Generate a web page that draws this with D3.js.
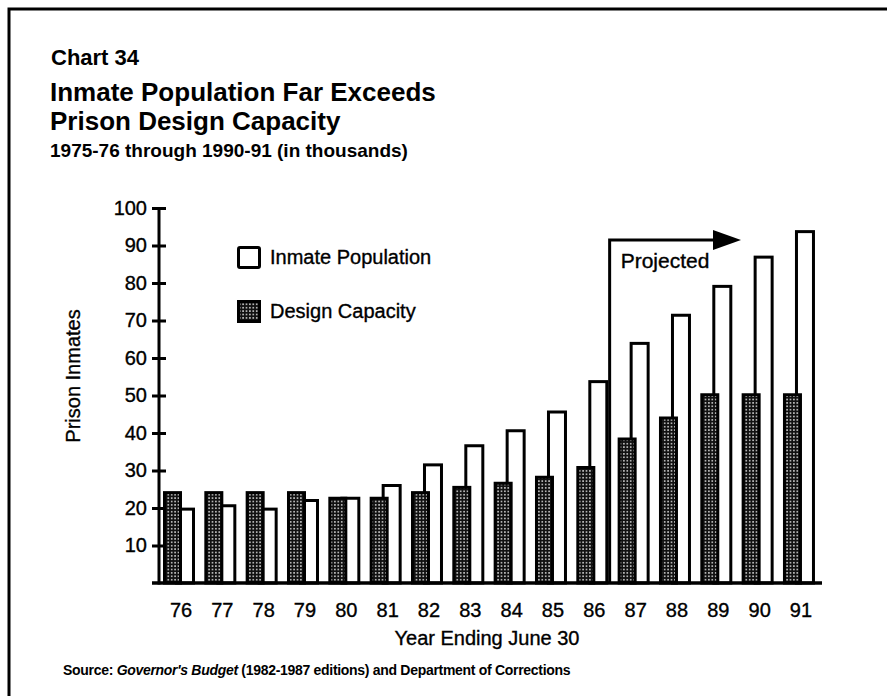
<!DOCTYPE html>
<html>
<head>
<meta charset="utf-8">
<script src="https://cdn.jsdelivr.net/npm/d3@7"></script>
<style>
  html, body { margin: 0; padding: 0; background: #fff; }
  svg { display: block; font-family: "Liberation Sans", Arial, Helvetica, sans-serif; }
  .ink { stroke: #000; stroke-width: 0.35px; }
</style>
</head>
<body>
<svg id="chart" width="887" height="696"></svg>
<script>
// Fiscal years ending June 30 (two-digit labels)
const years = ["76","77","78","79","80","81","82","83","84","85","86","87","88","89","90","91"];
// Prison inmates, thousands
const inmatePopulation = [19.7, 20.6, 19.7, 22.0, 22.6, 26.0, 31.5, 36.6, 40.6, 45.6, 53.7, 63.9, 71.4, 79.1, 86.9, 93.7];
// Prison design capacity, thousands
const designCapacity = [24.1, 24.1, 24.1, 24.1, 22.6, 22.6, 24.1, 25.5, 26.6, 28.2, 30.8, 38.4, 44.0, 50.2, 50.2, 50.2];
// Y axis tick values
const yTicks = [10, 20, 30, 40, 50, 60, 70, 80, 90, 100];
// First projected year
const projectedFrom = "87";

const svg = d3.select("#chart");
const ink = "#000";

// dotted screen used for the design-capacity bars
const defs = svg.append("defs");
const pat = defs.append("pattern")
  .attr("id", "dots").attr("patternUnits", "userSpaceOnUse")
  .attr("width", 3.4).attr("height", 3.4);
pat.append("rect").attr("width", 3.4).attr("height", 3.4).attr("fill", "#111");
pat.append("rect").attr("x", 1).attr("y", 1).attr("width", 1.4).attr("height", 1.4).attr("fill", "#fff");

// page frame
svg.append("rect").attr("x", 9).attr("y", 9).attr("width", 900).attr("height", 720)
  .attr("fill", "none").attr("stroke", ink).attr("stroke-width", 3);

// headings
svg.append("text").attr("x", 51).attr("y", 65).attr("font-size", 22).attr("font-weight", "bold").text("Chart 34");
svg.append("text").attr("x", 50).attr("y", 101).attr("font-size", 26).attr("font-weight", "bold").text("Inmate Population Far Exceeds");
svg.append("text").attr("x", 50).attr("y", 130).attr("font-size", 26).attr("font-weight", "bold").text("Prison Design Capacity");
svg.append("text").attr("x", 50).attr("y", 157).attr("font-size", 19).attr("font-weight", "bold").text("1975-76 through 1990-91 (in thousands)");

// scales
const x = d3.scaleBand().domain(years).range([160, 821.3]).padding(0);
const y = d3.scaleLinear().domain([0, 100]).range([583, 208]);

// bars: inmate population sits behind and to the right of design capacity
const groups = svg.append("g").selectAll("g").data(years).join("g");
groups.append("rect")
  .attr("x", d => x(d) + 16.5)
  .attr("width", 17)
  .attr("y", (d, i) => y(inmatePopulation[i]))
  .attr("height", (d, i) => y(0) - y(inmatePopulation[i]))
  .attr("fill", "#fff").attr("stroke", ink).attr("stroke-width", 3);
groups.append("rect")
  .attr("x", d => x(d) + 4.5)
  .attr("width", 16)
  .attr("y", (d, i) => y(designCapacity[i]))
  .attr("height", (d, i) => y(0) - y(designCapacity[i]))
  .attr("fill", "url(#dots)").attr("stroke", ink).attr("stroke-width", 3);

// y axis
const yAxis = svg.append("g").attr("transform", "translate(159,0)")
  .call(d3.axisLeft(y).tickValues(yTicks).tickSize(0).tickPadding(12));
yAxis.select(".domain").remove();
yAxis.selectAll(".tick line").attr("x1", -7).attr("x2", 7).attr("stroke", ink).attr("stroke-width", 3);
yAxis.selectAll(".tick text").attr("font-size", 20).attr("fill", ink).attr("class", "ink")
  .attr("font-family", "\"Liberation Sans\", Arial, sans-serif");
svg.append("line").attr("x1", 159).attr("x2", 159).attr("y1", y(100)).attr("y2", y(0) + 1.5)
  .attr("stroke", ink).attr("stroke-width", 3);

// x axis
const xAxis = svg.append("g").attr("transform", `translate(0,${y(0)})`)
  .call(d3.axisBottom(x).tickSize(0).tickPadding(20));
xAxis.select(".domain").remove();
xAxis.selectAll(".tick").attr("transform", d => `translate(${x(d) + 21},0)`);
xAxis.selectAll(".tick text").attr("font-size", 20).attr("fill", ink).attr("class", "ink")
  .attr("font-family", "\"Liberation Sans\", Arial, sans-serif");
svg.append("line").attr("x1", 152).attr("x2", 822).attr("y1", y(0)).attr("y2", y(0))
  .attr("stroke", ink).attr("stroke-width", 3.5);

// axis titles
svg.append("text").attr("class", "ink").attr("transform", "translate(80,376) rotate(-90)")
  .attr("text-anchor", "middle").attr("font-size", 20).text("Prison Inmates");
svg.append("text").attr("class", "ink").attr("x", 487).attr("y", 645).attr("text-anchor", "middle")
  .attr("font-size", 20).text("Year Ending June 30");

// legend
const legend = svg.append("g");
legend.append("rect").attr("x", 238.5).attr("y", 247.5).attr("width", 21).attr("height", 20)
  .attr("fill", "#fff").attr("stroke", ink).attr("stroke-width", 3).attr("rx", 1.5);
legend.append("text").attr("class", "ink").attr("x", 270).attr("y", 264).attr("font-size", 20).text("Inmate Population");
legend.append("rect").attr("x", 238.5).attr("y", 301.5).attr("width", 21).attr("height", 20)
  .attr("fill", "url(#dots)").attr("stroke", ink).attr("stroke-width", 3);
legend.append("text").attr("class", "ink").attr("x", 270).attr("y", 318).attr("font-size", 20).text("Design Capacity");

// projected bracket with arrow
const px = x(projectedFrom) - 5;
const py = 240;
svg.append("path")
  .attr("d", `M${px},${y(0)} V${py} H716`)
  .attr("fill", "none").attr("stroke", ink).attr("stroke-width", 3);
svg.append("path")
  .attr("d", `M713,${py - 10} L741,${py} L713,${py + 10} Z`)
  .attr("fill", ink);
svg.append("text").attr("class", "ink").attr("x", px + 11).attr("y", 268).attr("font-size", 21).text("Projected");

// source note
const src = svg.append("text").attr("x", 63).attr("y", 675).attr("font-size", 14)
  .attr("font-weight", "bold").attr("letter-spacing", -0.3);
src.append("tspan").text("Source: ");
src.append("tspan").attr("font-style", "italic").text("Governor's Budget");
src.append("tspan").text(" (1982-1987 editions) and Department of Corrections");
</script>
</body>
</html>
